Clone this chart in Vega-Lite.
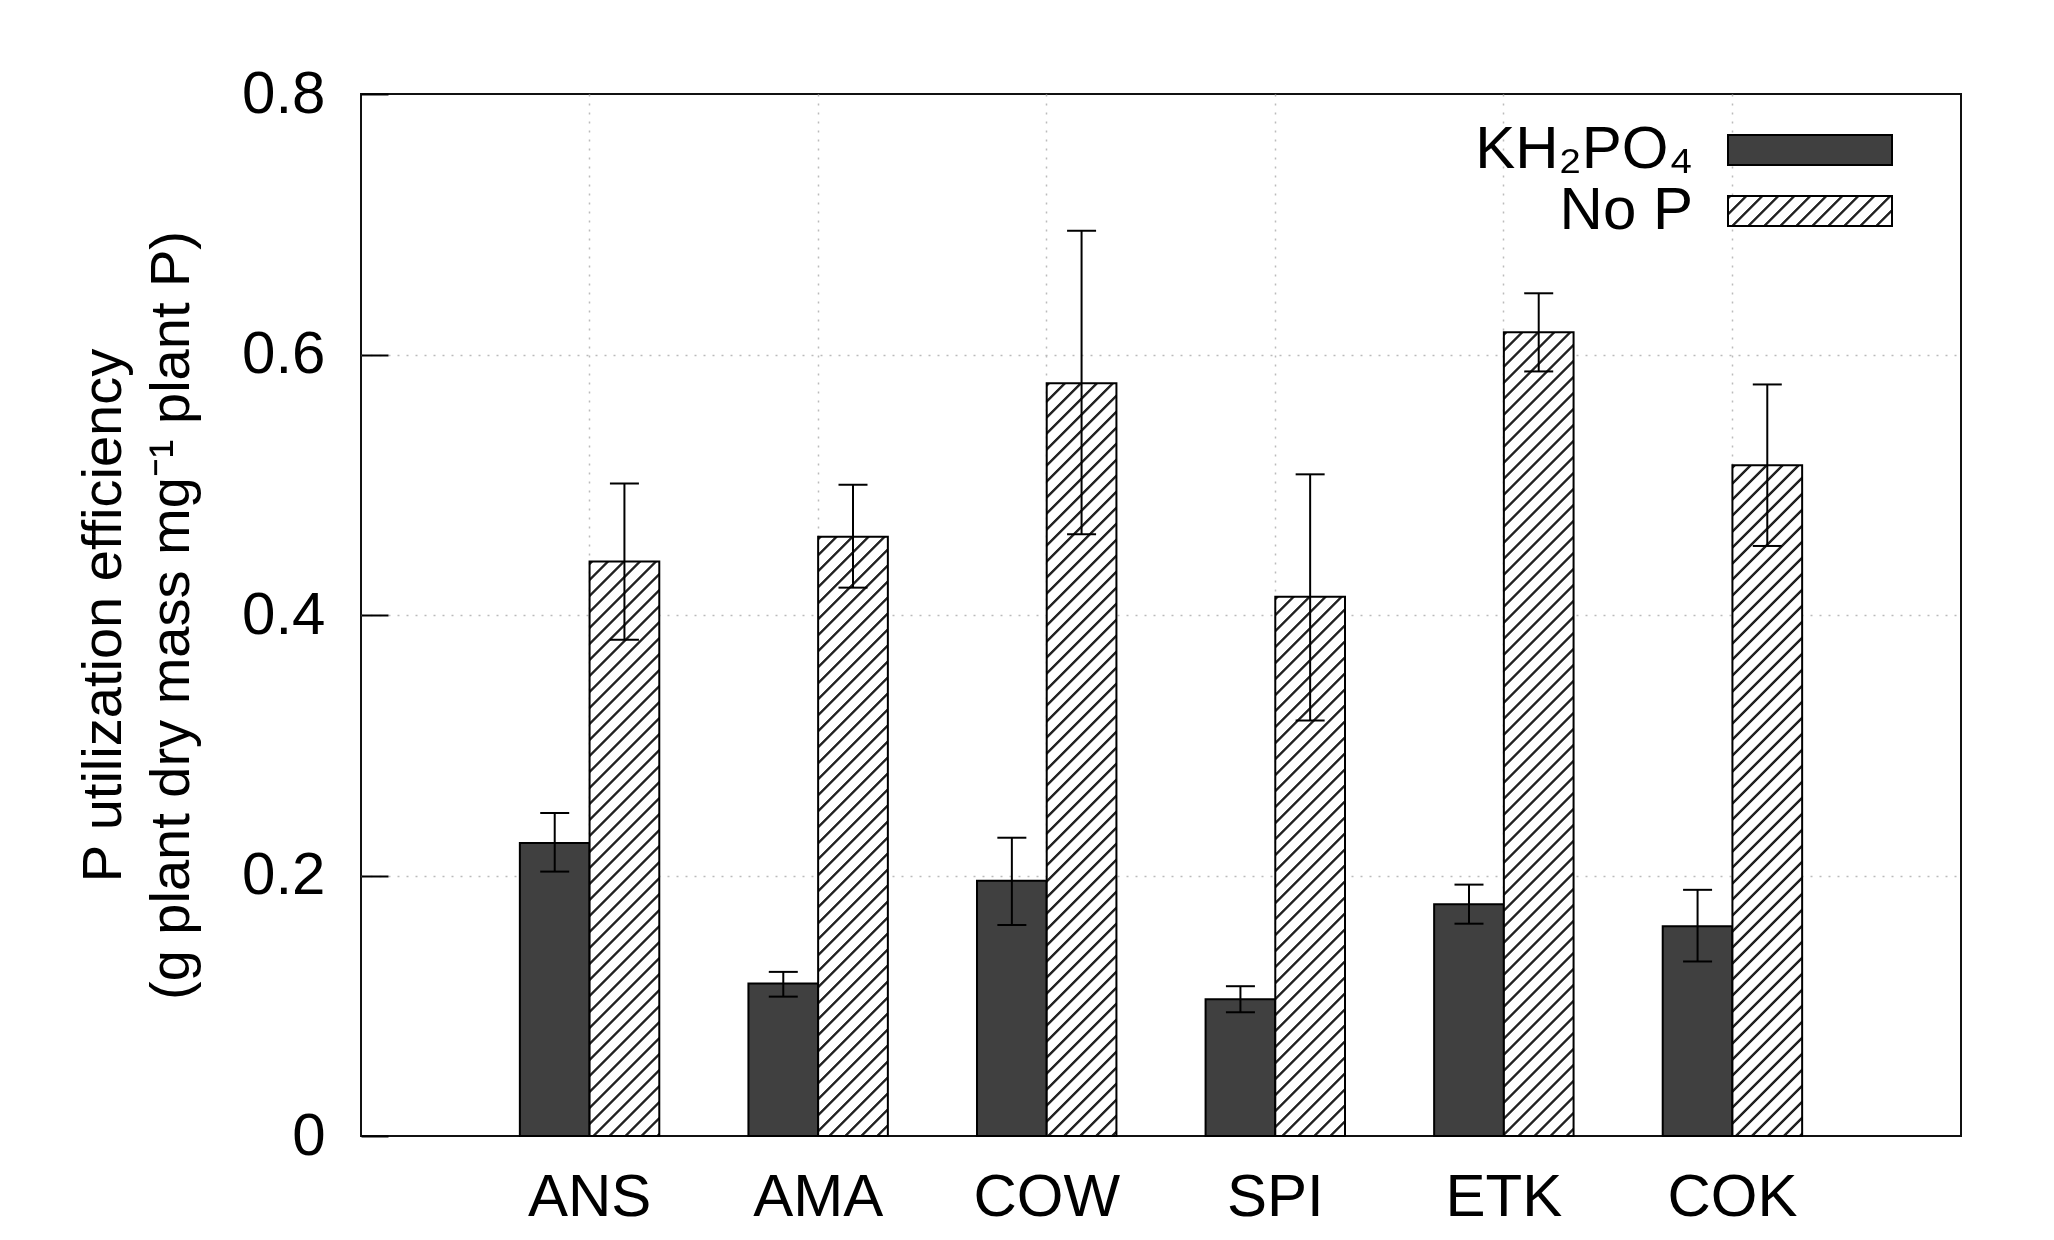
{
"$schema": "https://vega.github.io/schema/vega-lite/v6.json",
"width": 1600,
"height": 1042,
"autosize": {"type": "none"},
"padding": {"left": 361, "top": 94, "right": 93, "bottom": 104},
"background": "white",
"params": [{"name": "hs", "value": [
{"offset":0,"color":"#fff"},{"offset":0.0012,"color":"#222"},{"offset":0.0034,"color":"#222"},{"offset":0.0046,"color":"#fff"},
{"offset":0.016,"color":"#fff"},{"offset":0.0172,"color":"#222"},{"offset":0.0194,"color":"#222"},{"offset":0.0206,"color":"#fff"},
{"offset":0.032,"color":"#fff"},{"offset":0.0332,"color":"#222"},{"offset":0.0354,"color":"#222"},{"offset":0.0366,"color":"#fff"},
{"offset":0.048,"color":"#fff"},{"offset":0.0492,"color":"#222"},{"offset":0.0514,"color":"#222"},{"offset":0.0526,"color":"#fff"},
{"offset":0.064,"color":"#fff"},{"offset":0.0652,"color":"#222"},{"offset":0.0674,"color":"#222"},{"offset":0.0686,"color":"#fff"},
{"offset":0.08,"color":"#fff"},{"offset":0.0812,"color":"#222"},{"offset":0.0834,"color":"#222"},{"offset":0.0846,"color":"#fff"},
{"offset":0.096,"color":"#fff"},{"offset":0.0972,"color":"#222"},{"offset":0.0994,"color":"#222"},{"offset":0.1006,"color":"#fff"},
{"offset":0.112,"color":"#fff"},{"offset":0.1132,"color":"#222"},{"offset":0.1154,"color":"#222"},{"offset":0.1166,"color":"#fff"},
{"offset":0.128,"color":"#fff"},{"offset":0.1292,"color":"#222"},{"offset":0.1314,"color":"#222"},{"offset":0.1326,"color":"#fff"},
{"offset":0.144,"color":"#fff"},{"offset":0.1452,"color":"#222"},{"offset":0.1474,"color":"#222"},{"offset":0.1486,"color":"#fff"},
{"offset":0.16,"color":"#fff"},{"offset":0.1612,"color":"#222"},{"offset":0.1634,"color":"#222"},{"offset":0.1646,"color":"#fff"},
{"offset":0.176,"color":"#fff"},{"offset":0.1772,"color":"#222"},{"offset":0.1794,"color":"#222"},{"offset":0.1806,"color":"#fff"},
{"offset":0.192,"color":"#fff"},{"offset":0.1932,"color":"#222"},{"offset":0.1954,"color":"#222"},{"offset":0.1966,"color":"#fff"},
{"offset":0.208,"color":"#fff"},{"offset":0.2092,"color":"#222"},{"offset":0.2114,"color":"#222"},{"offset":0.2126,"color":"#fff"},
{"offset":0.224,"color":"#fff"},{"offset":0.2252,"color":"#222"},{"offset":0.2274,"color":"#222"},{"offset":0.2286,"color":"#fff"},
{"offset":0.24,"color":"#fff"},{"offset":0.2412,"color":"#222"},{"offset":0.2434,"color":"#222"},{"offset":0.2446,"color":"#fff"},
{"offset":0.256,"color":"#fff"},{"offset":0.2572,"color":"#222"},{"offset":0.2594,"color":"#222"},{"offset":0.2606,"color":"#fff"},
{"offset":0.272,"color":"#fff"},{"offset":0.2732,"color":"#222"},{"offset":0.2754,"color":"#222"},{"offset":0.2766,"color":"#fff"},
{"offset":0.288,"color":"#fff"},{"offset":0.2892,"color":"#222"},{"offset":0.2914,"color":"#222"},{"offset":0.2926,"color":"#fff"},
{"offset":0.304,"color":"#fff"},{"offset":0.3052,"color":"#222"},{"offset":0.3074,"color":"#222"},{"offset":0.3086,"color":"#fff"},
{"offset":0.32,"color":"#fff"},{"offset":0.3212,"color":"#222"},{"offset":0.3234,"color":"#222"},{"offset":0.3246,"color":"#fff"},
{"offset":0.336,"color":"#fff"},{"offset":0.3372,"color":"#222"},{"offset":0.3394,"color":"#222"},{"offset":0.3406,"color":"#fff"},
{"offset":0.352,"color":"#fff"},{"offset":0.3532,"color":"#222"},{"offset":0.3554,"color":"#222"},{"offset":0.3566,"color":"#fff"},
{"offset":0.368,"color":"#fff"},{"offset":0.3692,"color":"#222"},{"offset":0.3714,"color":"#222"},{"offset":0.3726,"color":"#fff"},
{"offset":0.384,"color":"#fff"},{"offset":0.3852,"color":"#222"},{"offset":0.3874,"color":"#222"},{"offset":0.3886,"color":"#fff"},
{"offset":0.4,"color":"#fff"},{"offset":0.4012,"color":"#222"},{"offset":0.4034,"color":"#222"},{"offset":0.4046,"color":"#fff"},
{"offset":0.416,"color":"#fff"},{"offset":0.4172,"color":"#222"},{"offset":0.4194,"color":"#222"},{"offset":0.4206,"color":"#fff"},
{"offset":0.432,"color":"#fff"},{"offset":0.4332,"color":"#222"},{"offset":0.4354,"color":"#222"},{"offset":0.4366,"color":"#fff"},
{"offset":0.448,"color":"#fff"},{"offset":0.4492,"color":"#222"},{"offset":0.4514,"color":"#222"},{"offset":0.4526,"color":"#fff"},
{"offset":0.464,"color":"#fff"},{"offset":0.4652,"color":"#222"},{"offset":0.4674,"color":"#222"},{"offset":0.4686,"color":"#fff"},
{"offset":0.48,"color":"#fff"},{"offset":0.4812,"color":"#222"},{"offset":0.4834,"color":"#222"},{"offset":0.4846,"color":"#fff"},
{"offset":0.496,"color":"#fff"},{"offset":0.4972,"color":"#222"},{"offset":0.4994,"color":"#222"},{"offset":0.5006,"color":"#fff"},
{"offset":0.512,"color":"#fff"},{"offset":0.5132,"color":"#222"},{"offset":0.5154,"color":"#222"},{"offset":0.5166,"color":"#fff"},
{"offset":0.528,"color":"#fff"},{"offset":0.5292,"color":"#222"},{"offset":0.5314,"color":"#222"},{"offset":0.5326,"color":"#fff"},
{"offset":0.544,"color":"#fff"},{"offset":0.5452,"color":"#222"},{"offset":0.5474,"color":"#222"},{"offset":0.5486,"color":"#fff"},
{"offset":0.56,"color":"#fff"},{"offset":0.5612,"color":"#222"},{"offset":0.5634,"color":"#222"},{"offset":0.5646,"color":"#fff"},
{"offset":0.576,"color":"#fff"},{"offset":0.5772,"color":"#222"},{"offset":0.5794,"color":"#222"},{"offset":0.5806,"color":"#fff"},
{"offset":0.592,"color":"#fff"},{"offset":0.5932,"color":"#222"},{"offset":0.5954,"color":"#222"},{"offset":0.5966,"color":"#fff"},
{"offset":0.608,"color":"#fff"},{"offset":0.6092,"color":"#222"},{"offset":0.6114,"color":"#222"},{"offset":0.6126,"color":"#fff"},
{"offset":0.624,"color":"#fff"},{"offset":0.6252,"color":"#222"},{"offset":0.6274,"color":"#222"},{"offset":0.6286,"color":"#fff"},
{"offset":0.64,"color":"#fff"},{"offset":0.6412,"color":"#222"},{"offset":0.6434,"color":"#222"},{"offset":0.6446,"color":"#fff"},
{"offset":0.656,"color":"#fff"},{"offset":0.6572,"color":"#222"},{"offset":0.6594,"color":"#222"},{"offset":0.6606,"color":"#fff"},
{"offset":0.672,"color":"#fff"},{"offset":0.6732,"color":"#222"},{"offset":0.6754,"color":"#222"},{"offset":0.6766,"color":"#fff"},
{"offset":0.688,"color":"#fff"},{"offset":0.6892,"color":"#222"},{"offset":0.6914,"color":"#222"},{"offset":0.6926,"color":"#fff"},
{"offset":0.704,"color":"#fff"},{"offset":0.7052,"color":"#222"},{"offset":0.7074,"color":"#222"},{"offset":0.7086,"color":"#fff"},
{"offset":0.72,"color":"#fff"},{"offset":0.7212,"color":"#222"},{"offset":0.7234,"color":"#222"},{"offset":0.7246,"color":"#fff"},
{"offset":0.736,"color":"#fff"},{"offset":0.7372,"color":"#222"},{"offset":0.7394,"color":"#222"},{"offset":0.7406,"color":"#fff"},
{"offset":0.752,"color":"#fff"},{"offset":0.7532,"color":"#222"},{"offset":0.7554,"color":"#222"},{"offset":0.7566,"color":"#fff"},
{"offset":0.768,"color":"#fff"},{"offset":0.7692,"color":"#222"},{"offset":0.7714,"color":"#222"},{"offset":0.7726,"color":"#fff"},
{"offset":0.784,"color":"#fff"},{"offset":0.7852,"color":"#222"},{"offset":0.7874,"color":"#222"},{"offset":0.7886,"color":"#fff"},
{"offset":0.8,"color":"#fff"},{"offset":0.8012,"color":"#222"},{"offset":0.8034,"color":"#222"},{"offset":0.8046,"color":"#fff"},
{"offset":0.816,"color":"#fff"},{"offset":0.8172,"color":"#222"},{"offset":0.8194,"color":"#222"},{"offset":0.8206,"color":"#fff"},
{"offset":0.832,"color":"#fff"},{"offset":0.8332,"color":"#222"},{"offset":0.8354,"color":"#222"},{"offset":0.8366,"color":"#fff"},
{"offset":0.848,"color":"#fff"},{"offset":0.8492,"color":"#222"},{"offset":0.8514,"color":"#222"},{"offset":0.8526,"color":"#fff"},
{"offset":0.864,"color":"#fff"},{"offset":0.8652,"color":"#222"},{"offset":0.8674,"color":"#222"},{"offset":0.8686,"color":"#fff"},
{"offset":0.88,"color":"#fff"},{"offset":0.8812,"color":"#222"},{"offset":0.8834,"color":"#222"},{"offset":0.8846,"color":"#fff"}
]}],
"config": {
  "font": "Liberation Sans",
  "view": {"stroke": "#111", "strokeWidth": 2},
  "axis": {"labelFont": "Liberation Sans", "titleFont": "Liberation Sans", "labelFontSize": 60, "titleFontSize": 56, "titleFontWeight": "normal", "labelColor": "#000", "titleColor": "#000", "domain": false, "gridDash": [2, 7], "gridWidth": 1.5, "gridColor": "#bbb"},
  "axisX": {"ticks": false, "labelPadding": 32, "labelAngle": 0, "bandPosition": 0.5, "grid": true},
  "axisY": {"tickSize": -27, "tickColor": "#000", "tickWidth": 2, "labelPadding": 63, "titlePadding": 41, "titleLineHeight": 68, "tickCount": 4, "format": "~g", "grid": true,
    "gridColor": {"condition": {"test": "datum.value <= 0.001 || datum.value >= 0.799", "value": "transparent"}, "value": "#bbb"}}
},
"data": {"values": [
  {"site": "ANS", "trt": "KH₂PO₄", "v": 0.225, "lo": 0.203, "hi": 0.248},
  {"site": "ANS", "trt": "No P", "v": 0.441, "lo": 0.381, "hi": 0.501},
  {"site": "AMA", "trt": "KH₂PO₄", "v": 0.117, "lo": 0.107, "hi": 0.126},
  {"site": "AMA", "trt": "No P", "v": 0.460, "lo": 0.421, "hi": 0.500},
  {"site": "COW", "trt": "KH₂PO₄", "v": 0.196, "lo": 0.162, "hi": 0.229},
  {"site": "COW", "trt": "No P", "v": 0.578, "lo": 0.462, "hi": 0.695},
  {"site": "SPI", "trt": "KH₂PO₄", "v": 0.105, "lo": 0.095, "hi": 0.115},
  {"site": "SPI", "trt": "No P", "v": 0.414, "lo": 0.319, "hi": 0.508},
  {"site": "ETK", "trt": "KH₂PO₄", "v": 0.178, "lo": 0.163, "hi": 0.193},
  {"site": "ETK", "trt": "No P", "v": 0.617, "lo": 0.587, "hi": 0.647},
  {"site": "COK", "trt": "KH₂PO₄", "v": 0.161, "lo": 0.134, "hi": 0.189},
  {"site": "COK", "trt": "No P", "v": 0.515, "lo": 0.453, "hi": 0.577}
]},
"encoding": {
  "x": {"field": "site", "type": "nominal", "sort": ["ANS", "AMA", "COW", "SPI", "ETK", "COK"], "scale": {"paddingInner": 0.39, "paddingOuter": 0.695}, "title": null},
  "xOffset": {"field": "trt", "type": "nominal", "sort": ["KH₂PO₄", "No P"], "scale": {"paddingInner": 0, "paddingOuter": 0}}
},
"layer": [
  {
    "mark": {"type": "bar", "strokeWidth": 2, "filled": true},
    "encoding": {
      "y": {"field": "v", "type": "quantitative", "scale": {"domain": [0, 0.8], "nice": false}, "title": ["P utilization efficiency", "(g plant dry mass mg⁻¹ plant P)"]},
      "fill": {"value": {"expr": "datum.trt=='No P'?{gradient:'linear',x1:0,y1:0,x2:bandwidth('xOffset')*1000/(pow(bandwidth('xOffset'),2)+pow(scale('y',0)-scale('y',datum.v),2)),y2:(scale('y',0)-scale('y',datum.v))*1000/(pow(bandwidth('xOffset'),2)+pow(scale('y',0)-scale('y',datum.v),2)),stops:hs}:(datum.value=='No P'||datum.label=='No P')?{gradient:'linear',x1:0,y1:0,x2:5.9001,y2:1.0793,stops:hs}:'#404040'"}},
      "stroke": {"field": "trt", "type": "nominal", "scale": {"domain": ["KH₂PO₄", "No P"], "range": ["#000", "#000"]},
        "legend": {"orient": "none", "legendX": 1419, "legendY": 26, "title": null, "padding": 0,
          "symbolType": "M-5.4667,-1H5.4667V1H-5.4667Z", "symbolSize": 900, "symbolStrokeWidth": 2, "symbolStrokeColor": "#000",
          "labelFont": "Liberation Sans", "labelFontSize": 60, "labelColor": "#000", "labelLimit": 600, "labelAlign": "right", "labelOffset": -147, "rowPadding": 1,
          "encode": {"symbols": {"fill": {"value": {"expr": "(datum.value=='No P'||datum.label=='No P')?{gradient:'linear',x1:0,y1:0,x2:5.9001,y2:1.0793,stops:hs}:'#404040'"}}, "stroke": {"value": "#000"}, "opacity": {"value": 1}}}}
      }
    }
  },
  {
    "mark": {"type": "rule", "strokeWidth": 2, "color": "#000"},
    "encoding": {
      "y": {"field": "lo", "type": "quantitative", "title": ["P utilization efficiency", "(g plant dry mass mg⁻¹ plant P)"]},
      "y2": {"field": "hi"}
    }
  },
  {
    "mark": {"type": "tick", "orient": "horizontal", "size": 29, "thickness": 2, "color": "#000", "opacity": 1},
    "encoding": {"y": {"field": "lo", "type": "quantitative", "title": ["P utilization efficiency", "(g plant dry mass mg⁻¹ plant P)"]}}
  },
  {
    "mark": {"type": "tick", "orient": "horizontal", "size": 29, "thickness": 2, "color": "#000", "opacity": 1},
    "encoding": {"y": {"field": "hi", "type": "quantitative", "title": ["P utilization efficiency", "(g plant dry mass mg⁻¹ plant P)"]}}
  }
]
}
